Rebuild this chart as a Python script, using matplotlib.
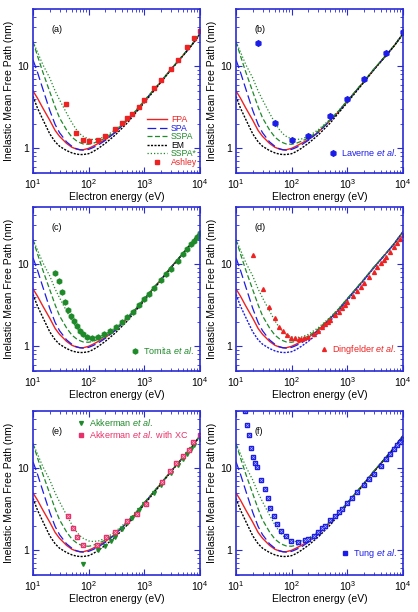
import matplotlib
matplotlib.use("Agg")
import matplotlib.pyplot as plt
from matplotlib.ticker import LogLocator, NullFormatter, FixedLocator, FixedFormatter

plt.rcParams['font.family'] = ['Liberation Sans', 'DejaVu Sans']
plt.rcParams['mathtext.fontset'] = 'custom'
plt.rcParams['mathtext.rm'] = 'Liberation Sans'
plt.rcParams['mathtext.it'] = 'Liberation Sans:italic'
plt.rcParams['font.size'] = 7

# theory curves (same in every panel)
E_th = [10, 12, 15, 20, 25, 30, 40, 50, 60, 70, 80, 100, 120, 150, 200,
        300, 500, 700, 1000, 2000, 3000, 5000, 7000, 10000]
fpa = [5.0, 4.1, 3.1, 2.2, 1.65, 1.4, 1.15, 1.03, 0.98, 0.96, 0.96, 1.0, 1.06, 1.15, 1.28,
       1.57, 2.2, 2.8, 3.75, 6.5, 9.1, 13.6, 17.8, 24.8]
spa = [12.0, 8.5, 5.3, 2.9, 1.95, 1.55, 1.2, 1.06, 0.99, 0.96, 0.95, 0.97, 1.02, 1.1, 1.25,
       1.56, 2.2, 2.8, 3.75, 6.5, 9.1, 13.6, 17.8, 24.8]
sspa = [20.0, 13.5, 8.5, 4.9, 3.2, 2.35, 1.68, 1.37, 1.24, 1.17, 1.13, 1.12, 1.15, 1.22, 1.33,
        1.62, 2.25, 2.85, 3.8, 6.55, 9.2, 13.7, 17.9, 24.9]
em = [4.3, 3.1, 2.25, 1.5, 1.2, 1.06, 0.94, 0.88, 0.85, 0.84, 0.84, 0.86, 0.91, 1.0, 1.15,
      1.45, 2.05, 2.7, 3.6, 6.4, 9.0, 13.5, 17.7, 24.5]
sspa_star = [20.0, 15.0, 10.5, 7.2, 5.0, 3.9, 2.7, 2.05, 1.7, 1.5, 1.4, 1.3, 1.28, 1.3, 1.4,
             1.68, 2.28, 2.88, 3.8, 6.55, 9.2, 13.7, 17.9, 24.9]

# experimental data
ashley_E = [40, 60, 80, 100, 150, 200, 300, 400, 500, 600, 800, 1000, 1500, 2000, 3000,
            4000, 6000, 8000, 10000]
ashley_v = [3.5, 1.55, 1.28, 1.22, 1.28, 1.42, 1.72, 2.05, 2.35, 2.65, 3.2, 3.85, 5.4, 6.9,
            9.4, 12.0, 17.0, 22.0, 27.0]

laverne_E = [25, 50, 100, 200, 500, 1000, 2000, 5000, 10000]
laverne_v = [19.5, 2.05, 1.25, 1.43, 2.45, 3.95, 7.0, 14.5, 26.0]

tomita_E = [25, 29, 33, 38, 42, 48, 54, 61, 70, 80, 95, 117, 150, 190, 245, 310, 400, 500,
            630, 800, 1000, 1200, 1500, 2000, 2500, 3000, 4000, 5000, 6000, 7000, 8000,
            9000, 10000]
tomita_v = [7.9, 6.25, 4.65, 3.5, 2.77, 2.37, 2.02, 1.75, 1.54, 1.4, 1.31, 1.28, 1.31, 1.4,
            1.53, 1.71, 1.98, 2.3, 2.65, 3.15, 3.75, 4.3, 5.1, 6.4, 7.6, 8.8, 11.0, 13.3,
            15.5, 17.5, 19.5, 21.5, 23.8]

ding_E = [20, 30, 40, 50, 59, 70, 83, 96, 113, 135, 150, 170, 200, 250, 300, 350, 400, 450,
          500, 600, 700, 800, 900, 1000, 1250, 1500, 1750, 2000, 2500, 3000, 3500, 4000,
          4500, 5000, 6000, 7000, 8000, 9000, 10000]
ding_v = [13.0, 5.0, 3.05, 2.2, 1.74, 1.53, 1.37, 1.28, 1.25, 1.22, 1.22, 1.25, 1.3, 1.42,
          1.55, 1.7, 1.85, 2.0, 2.12, 2.4, 2.65, 2.95, 3.2, 3.45, 4.1, 4.7, 5.3, 5.9, 7.0,
          8.1, 9.2, 10.3, 11.3, 12.3, 14.3, 16.3, 18.3, 20.2, 22.5]

akk_E = [80, 150, 200, 250, 300, 400, 500, 600, 700, 800, 1000, 1500, 2000, 3000, 4000,
         5000, 6000, 7000, 8000, 10000]
akk_v = [0.68, 1.0, 1.12, 1.3, 1.45, 1.8, 2.15, 2.5, 2.75, 3.1, 3.65, 5.0, 6.3, 8.7, 10.9,
         13.0, 15.0, 17.0, 19.0, 23.0]

akkxc_E = [42, 52, 63, 80, 144, 206, 300, 500, 730, 1070, 2080, 2950, 3780, 5000, 6300,
           7700, 9900]
akkxc_v = [2.61, 1.86, 1.47, 1.17, 1.15, 1.47, 1.65, 2.3, 2.74, 3.7, 6.8, 9.3, 11.5, 14.0,
           16.9, 20.9, 25.4]

tung_E = [14.5, 16, 17, 19, 20.4, 21.8, 23.4, 28, 33, 37, 40.5, 48.6, 55.5, 65, 78, 98,
          132, 177, 200, 250, 300, 350, 400, 500, 600, 700, 800, 1000, 1200, 1500, 2000,
          2500, 3000, 4000, 5000, 6000, 7000, 8000, 9000, 10000]
tung_v = [50.0, 33.8, 25.3, 17.9, 13.6, 11.7, 10.3, 7.1, 5.55, 4.4, 3.3, 2.6, 2.1, 1.72,
          1.5, 1.3, 1.26, 1.32, 1.36, 1.5, 1.65, 1.85, 2.0, 2.35, 2.65, 2.95, 3.2, 3.8, 4.3,
          5.1, 6.3, 7.5, 8.6, 10.8, 12.9, 15.0, 17.0, 19.0, 21.0, 23.0]

RED = '#ee2222'
BLUE = '#1c1ce8'
GREEN = '#1f8a2a'
PINK = '#e8316b'
FRAME = '#2b2bd6'


def setup_axes(ax, label):
    ax.set_xscale('log')
    ax.set_yscale('log')
    ax.set_xlim(10, 1e4)
    ax.set_ylim(0.5, 50)
    ax.yaxis.set_major_locator(FixedLocator([1, 10]))
    ax.yaxis.set_major_formatter(FixedFormatter(['1', '10']))
    ax.yaxis.set_minor_locator(LogLocator(base=10, subs=range(2, 10)))
    ax.yaxis.set_minor_formatter(NullFormatter())
    ax.xaxis.set_minor_locator(LogLocator(base=10, subs=range(2, 10)))
    ax.xaxis.set_minor_formatter(NullFormatter())
    ax.tick_params(which='both', direction='in', top=True, right=True,
                   color=FRAME, labelsize=7.5, pad=3)
    ax.tick_params(which='major', length=4, width=0.8)
    ax.tick_params(which='minor', length=2, width=0.6)
    for s in ax.spines.values():
        s.set_color(FRAME)
        s.set_linewidth(1.2)
    ax.set_xlabel('Electron energy (eV)', fontsize=7.5, labelpad=1)
    ax.set_ylabel('Inelastic Mean Free Path (nm)', fontsize=7.5, labelpad=2)
    ax.text(0.11, 0.86, label, transform=ax.transAxes, fontsize=6.5)


def plot_theory(ax, em_color='black'):
    lines = []
    lines += ax.plot(E_th, fpa, color=RED, lw=1.0, ls='-', label='FPA')
    lines += ax.plot(E_th, spa, color=BLUE, lw=0.9, dashes=(7, 3), label='SPA')
    lines += ax.plot(E_th, sspa, color=GREEN, lw=0.9, dashes=(4, 2), label='SSPA')
    lines += ax.plot(E_th, em, color=em_color, lw=1.0, dashes=(1.5, 1), label='EM')
    lines += ax.plot(E_th, sspa_star, color=GREEN, lw=0.9, dashes=(1, 1.6), label='SSPA*')
    return lines


def add_legend(ax, handles, **kw):
    opts = dict(frameon=False, fontsize=6.5, labelcolor='linecolor', handletextpad=0.4,
                borderaxespad=0.3, labelspacing=0.1)
    opts.update(kw)
    return ax.legend(handles=handles, **opts)


fig = plt.figure(figsize=(4.18, 6.12), dpi=100)
w, h = 0.399, 0.268
xl, xr = 0.079, 0.5646
rows = [0.7173, 0.3938, 0.0605]
axs = [fig.add_axes([xl, rows[0], w, h]), fig.add_axes([xr, rows[0], w, h]),
       fig.add_axes([xl, rows[1], w, h]), fig.add_axes([xr, rows[1], w, h]),
       fig.add_axes([xl, rows[2], w, h]), fig.add_axes([xr, rows[2], w, h])]

# (a)
ax = axs[0]
setup_axes(ax, '(a)')
th = plot_theory(ax)
m, = ax.plot(ashley_E, ashley_v, ls='none', marker='s', ms=3.0, color=RED, label='Ashley')
add_legend(ax, th + [m], loc='lower right', handlelength=2.4, labelspacing=-0.05,
           bbox_to_anchor=(1.02, 0.0), fontsize=6.2)

# (b)
ax = axs[1]
setup_axes(ax, '(b)')
plot_theory(ax)
m, = ax.plot(laverne_E, laverne_v, ls='none', marker='h', ms=4.0, color=BLUE,
             label=r'Laverne $\it{et\ al.}$')
add_legend(ax, [m], loc='lower right', handlelength=1.0, bbox_to_anchor=(1.0, 0.05))

# (c)
ax = axs[2]
setup_axes(ax, '(c)')
plot_theory(ax)
m, = ax.plot(tomita_E, tomita_v, ls='none', marker='h', ms=3.6, color=GREEN,
             label=r'Tomita $\it{et\ al.}$')
add_legend(ax, [m], loc='lower right', handlelength=1.0, bbox_to_anchor=(1.0, 0.05))

# (d)
ax = axs[3]
setup_axes(ax, '(d)')
plot_theory(ax, em_color=BLUE)
m, = ax.plot(ding_E, ding_v, ls='none', marker='^', ms=2.8, color=RED,
             label=r'Dingfelder $\it{et\ al.}$')
add_legend(ax, [m], loc='lower right', handlelength=1.0, bbox_to_anchor=(1.0, 0.05))

# (e)
ax = axs[4]
setup_axes(ax, '(e)')
plot_theory(ax)
m1, = ax.plot(akk_E, akk_v, ls='none', marker='v', ms=2.8, color=GREEN,
              label=r'Akkerman $\it{et\ al.}$')
m2, = ax.plot(akkxc_E, akkxc_v, ls='none', marker='s', ms=3.3, color=PINK,
              label=r'Akkerman $\it{et\ al.}$ with XC')
ax.plot(akkxc_E, akkxc_v, ls='none', marker='x', ms=1.8, mew=0.5, color='#f6b8c8')
add_legend(ax, [m1, m2], loc='upper left', handlelength=1.0, bbox_to_anchor=(0.22, 1.0))

# (f)
ax = axs[5]
setup_axes(ax, '(f)')
plot_theory(ax)
m, = ax.plot(tung_E, tung_v, ls='none', marker='s', ms=3.3, color=BLUE,
             label=r'Tung $\it{et\ al.}$')
ax.plot(tung_E, tung_v, ls='none', marker='x', ms=1.8, mew=0.5, color='#aab4ff')
add_legend(ax, [m], loc='lower right', handlelength=1.0, bbox_to_anchor=(1.0, 0.05))

fig.savefig('out.png', dpi=100)
